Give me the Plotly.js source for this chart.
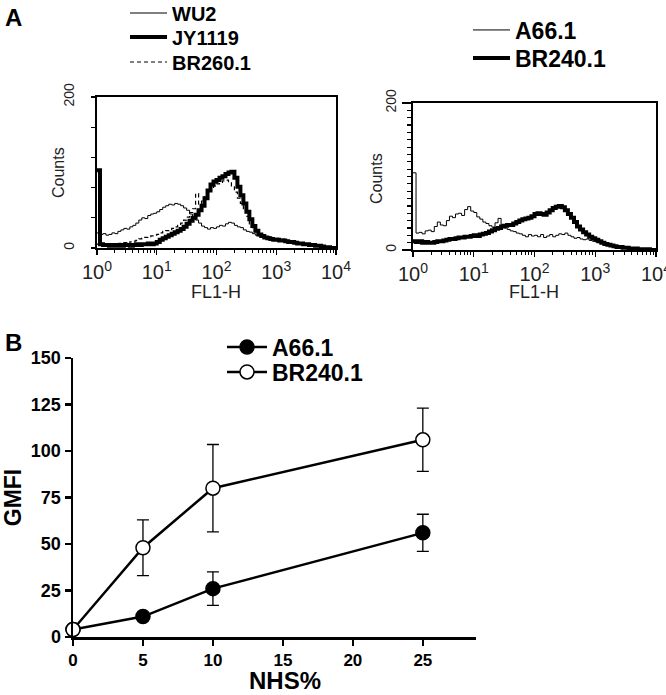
<!DOCTYPE html>
<html><head><meta charset="utf-8">
<script src="https://cdn.plot.ly/plotly-3.0.1.min.js"></script>
<style>html,body{margin:0;padding:0;background:#fff}</style>
</head><body><div id="chart" style="width:666px;height:695px"></div>
<script>
// FL1-H channel bins (log-spaced)
const fl1Bins = [1,1.122,1.259,1.413,1.585,1.778,1.995,2.239,2.512,2.818,3.162,3.548,3.981,4.467,5.012,5.623,6.310,7.079,7.943,8.913,
 10,11.22,12.59,14.13,15.85,17.78,19.95,22.39,25.12,28.18,31.62,35.48,39.81,44.67,50.12,56.23,63.10,70.79,79.43,89.13,
 100,112.2,125.9,141.3,158.5,177.8,199.5,223.9,251.2,281.8,316.2,354.8,398.1,446.7,501.2,562.3,631.0,707.9,794.3,891.3,
 1000,1122,1259,1413,1585,1778,1995,2239,2512,2818,3162,3548,3981,4467,5012,5623,6310,7079,7943,8913,10000];

// Panel A left counts
const wu2Counts = [20,18,19,17,18,20,19,22,24,26, 25,28,30,33,37,40,39,43,45,46, 48,51,54,56,58,57,59,58,56,53,
 50,45,41,37,33,29,27,25,27,26, 28,30,29,32,34,33,30,28,27,24, 22,21,19,17,16,15,14,15,13,12,
 13,11,12,10,9,9,8,7,7,6, 5,5,4,3,3,2,2,1,1,0, 0];
const jy1119Counts = [103,5,4,4,3,4,3,4,3,4, 4,3,4,5,4,5,5,6,5,6, 8,11,13,15,17,19,21,23,25,28,
 32,36,40,44,50,56,66,76,84,88, 90,93,95,98,100,101,93,81,70,59, 48,38,29,23,18,16,14,13,12,11,
 11,10,10,9,8,8,7,6,6,5, 5,4,4,3,3,2,1,1,0,0, 0];
const br260Counts = [5,3,4,3,5,4,5,6,5,7, 6,8,9,10,12,13,14,15,16,17, 18,20,22,23,24,26,28,30,33,37,
 41,47,52,72,58,62,68,74,78,82, 85,87,89,90,88,82,74,66,59,52, 42,32,26,21,18,15,14,13,12,12,
 11,10,9,9,8,7,7,6,5,5, 4,4,3,3,2,2,1,1,0,0, 0];

// Panel A right counts
const a66Counts = [105,23,24,22,26,27,25,32,38,34, 33,40,46,44,49,50,47,55,59,53, 51,45,42,38,36,33,31,37,43,34,
 30,28,26,25,23,22,20,18,21,19, 20,18,21,17,19,21,18,20,22,21, 23,20,18,16,17,15,14,15,13,12,
 11,10,10,9,8,7,6,6,5,4, 4,3,3,2,2,2,1,1,1,0, 0];
const br240Counts = [12,11,12,10,11,10,10,11,12,12, 13,14,15,15,16,17,17,18,18,19, 20,19,21,22,23,25,27,29,30,32,
 33,34,34,36,38,40,42,43,44,46, 49,50,49,48,51,54,57,59,60,58, 54,49,44,38,32,28,24,21,18,16,
 14,12,10,8,7,6,5,4,4,3, 3,2,2,2,1,1,1,1,0,0, 0];

// Panel B
const nhsPercent = [0,5,10,25];
const gmfiA66 = [4,11,26,56];
const gmfiA66Err = [1,2,9,10];
const gmfiBR240 = [4,48,80,106];
const gmfiBR240Err = [1,15,23.5,17];

const logTickVals = [1,10,100,1000,10000];
const logTickText = ['10<sup>0</sup>','10<sup>1</sup>','10<sup>2</sup>','10<sup>3</sup>','10<sup>4</sup>'];
const histYTickVals = [0,200];
const bXTicks = [0,5,10,15,20,25];
const bYTicks = [0,25,50,75,100,125,150];

const W = 666, H = 695;
const px = v => v / W;
const py = v => 1 - v / H;
const FONT = 'Arial, "Liberation Sans", Helvetica, sans-serif';
const GREY = '#222';

const traces = [
  {x: fl1Bins, y: wu2Counts, name: 'WU2', mode: 'lines', line: {color: '#000', width: 1, shape: 'hv'}, xaxis: 'x', yaxis: 'y', legend: 'legend'},
  {x: fl1Bins, y: jy1119Counts, name: 'JY1119', mode: 'lines', line: {color: '#000', width: 4, shape: 'hv'}, xaxis: 'x', yaxis: 'y', legend: 'legend2'},
  {x: fl1Bins, y: br260Counts, name: 'BR260.1', mode: 'lines', line: {color: '#000', width: 1.2, shape: 'hv', dash: '4px,3px'}, xaxis: 'x', yaxis: 'y', legend: 'legend3'},
  {x: fl1Bins, y: a66Counts, name: 'A66.1', mode: 'lines', line: {color: '#000', width: 1, shape: 'hv'}, xaxis: 'x2', yaxis: 'y2', legend: 'legend4'},
  {x: fl1Bins, y: br240Counts, name: 'BR240.1', mode: 'lines', line: {color: '#000', width: 4, shape: 'hv'}, xaxis: 'x2', yaxis: 'y2', legend: 'legend5'},
  {x: nhsPercent, y: gmfiA66, name: 'A66.1', mode: 'lines+markers', cliponaxis: false,
   line: {color: '#000', width: 2.5}, marker: {symbol: 'circle', size: 14, color: '#000', line: {color: '#000', width: 1.5}},
   error_y: {type: 'data', array: gmfiA66Err, visible: true, color: '#000', thickness: 1.3, width: 6},
   xaxis: 'x3', yaxis: 'y3', legend: 'legend6'},
  {x: nhsPercent, y: gmfiBR240, name: 'BR240.1', mode: 'lines+markers', cliponaxis: false,
   line: {color: '#000', width: 2.5}, marker: {symbol: 'circle', size: 14, color: '#fff', line: {color: '#000', width: 1.5}},
   error_y: {type: 'data', array: gmfiBR240Err, visible: true, color: '#000', thickness: 1.3, width: 6},
   xaxis: 'x3', yaxis: 'y3', legend: 'legend7'}
];

const histX = (dom) => ({
  type: 'log', domain: dom, range: [0, 4], tickmode: 'array', tickvals: logTickVals, ticktext: logTickText,
  ticks: 'outside', ticklen: 5, tickwidth: 1.2, tickcolor: '#000', ticklabeloverflow: 'allow',
  minor: {dtick: 'D1', ticks: 'outside', ticklen: 3, tickwidth: 1, tickcolor: '#000', showgrid: false},
  showline: true, linewidth: 2, linecolor: '#000', mirror: true, showgrid: false, zeroline: false,
  tickfont: {family: FONT, size: 20, color: GREY}
});
const histY = (dom, minorStep, majorLen, majorColor) => ({
  domain: dom, range: [0, 200], tickmode: 'array', tickvals: histYTickVals,
  tickangle: -90, ticks: 'outside', ticklen: majorLen, tickwidth: 1.2, tickcolor: majorColor,
  minor: {tick0: 0, dtick: minorStep, ticks: 'outside', ticklen: 4, tickwidth: 1.2, tickcolor: '#000', showgrid: false},
  showline: true, linewidth: 2, linecolor: '#000', mirror: true, showgrid: false, zeroline: false,
  tickfont: {family: FONT, size: 14, color: GREY}
});
const legendBase = (cx, cy, size, itemwidth) => ({
  x: px(cx), y: py(cy), xanchor: 'left', yanchor: 'middle', bgcolor: 'rgba(0,0,0,0)', borderwidth: 0,
  itemwidth: itemwidth, font: {family: FONT, size: size, color: '#000', weight: 'bold'}
});
const note = (text, x, y, size, extra) => Object.assign({
  text: text, x: px(x), y: py(y), xref: 'paper', yref: 'paper', xanchor: 'center', yanchor: 'middle', showarrow: false,
  font: {family: FONT, size: size, color: GREY}
}, extra || {});

const layout = {
  width: W, height: H, margin: {l: 0, r: 0, t: 0, b: 0, autoexpand: false},
  paper_bgcolor: '#fff', plot_bgcolor: 'rgba(0,0,0,0)',
  font: {family: FONT, color: '#000'},
  showlegend: true,
  xaxis: Object.assign(histX([px(97), px(336)]), {anchor: 'y'}),
  yaxis: Object.assign(histY([py(248), py(97)], 40, 15, 'rgba(0,0,0,0)'), {anchor: 'x'}),
  xaxis2: Object.assign(histX([px(413), px(656)]), {anchor: 'y2'}),
  yaxis2: Object.assign(histY([py(250), py(103)], 10, 9, '#000'), {anchor: 'x2'}),
  xaxis3: {anchor: 'y3', domain: [px(73), px(476)], range: [0, 28.8], tickmode: 'array', tickvals: bXTicks,
    ticktext: bXTicks.map(v => '<b>' + v + '</b>'),
    ticks: 'outside', ticklen: 6, tickwidth: 2.5, tickcolor: '#000',
    showline: true, linewidth: 2.5, linecolor: '#000', showgrid: false, zeroline: false,
    tickfont: {family: FONT, size: 17, color: '#000'}},
  yaxis3: {anchor: 'x3', domain: [py(637), py(358)], range: [0, 150], tickmode: 'array', tickvals: bYTicks,
    ticktext: bYTicks.map(v => '<b>' + v + '</b>'),
    ticks: 'outside', ticklen: 6, tickwidth: 2.5, tickcolor: '#000',
    showline: true, linewidth: 2.5, linecolor: '#000', showgrid: false, zeroline: false,
    tickfont: {family: FONT, size: 18, color: '#000'},
    title: {text: '<b>GMFI</b>', font: {family: FONT, size: 23, color: '#000'}, standoff: 10}},
  legend: legendBase(125, 13, 20, 37),
  legend2: legendBase(125, 37, 20, 37),
  legend3: legendBase(125, 62, 20, 37),
  legend4: legendBase(468, 30, 23, 37),
  legend5: legendBase(468, 58, 23, 37),
  legend6: legendBase(222, 347, 23, 40),
  legend7: legendBase(222, 372, 23, 40),
  annotations: [
    note('<b>A</b>', 3, 2, 24, {xanchor: 'left', yanchor: 'top', font: {family: FONT, size: 24, color: '#000'}}),
    note('<b>B</b>', 3, 327, 24, {xanchor: 'left', yanchor: 'top', font: {family: FONT, size: 24, color: '#000'}}),
    note('FL1-H', 216, 292, 18),
    note('FL1-H', 534, 292, 18),
    note('Counts', 58, 172, 16, {textangle: -90}),
    note('Counts', 377, 178, 16, {textangle: -90}),
    note('<b>NHS%</b>', 285, 680, 24, {font: {family: FONT, size: 24, color: '#000'}})
  ]
};

Plotly.newPlot('chart', traces, layout, {displayModeBar: false, staticPlot: true});
</script>
</body></html>
